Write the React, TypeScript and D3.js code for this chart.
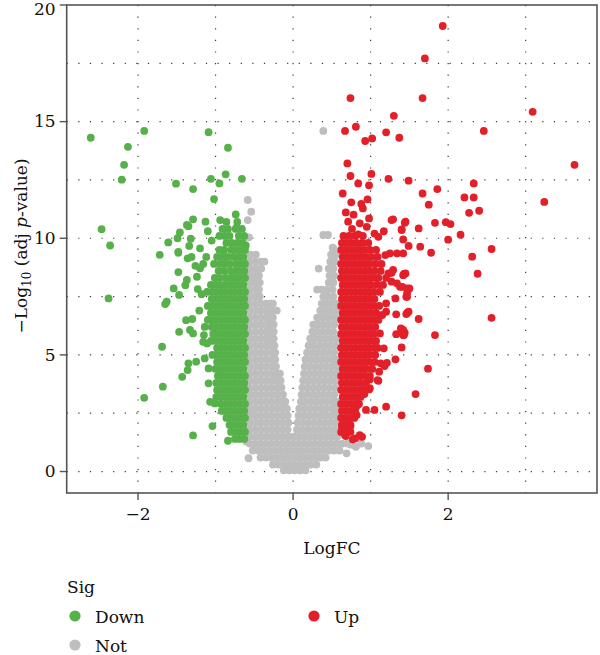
import React from "react";
import * as d3 from "d3";

// legend / colour mapping
const sigLevels = ["Down", "Not", "Up"];
const sigColors = ["#57B14A", "#BEBEBE", "#E3202A"];

const xTicks = [-2, 0, 2];
const yTicks = [0, 5, 10, 15, 20];
const xGrid = [-2, -1, 0, 1, 2, 3];
const yGrid = [0, 2.5, 5, 7.5, 10, 12.5, 15, 17.5];

// genes listed row by row: [-log10 adj p, logFC, logFC, ...]
const notRows: number[][] = [
  [0.05, -0.12, -0.05, 0.02, 0.09, 0.16],
  [0.3, -0.26, -0.19, -0.12, -0.05, 0.02, 0.09, 0.16, 0.23, 0.3],
  [0.6, -0.42, -0.35, -0.28, -0.21, -0.14, -0.07, 0, 0.07, 0.14, 0.21, 0.28, 0.35, 0.42],
  [0.9, -0.52, -0.45, -0.38, -0.31, -0.24, -0.17, -0.1, -0.03, 0.04, 0.11, 0.18, 0.25, 0.32, 0.39, 0.46, 0.53, 0.6],
  [1.2, -0.56, -0.49, -0.42, -0.35, -0.28, -0.21, -0.14, -0.07, 0, 0.07, 0.14, 0.21, 0.28, 0.35, 0.42, 0.49, 0.56, 0.63, 0.7],
  [1.5, -0.55, -0.48, -0.41, -0.34, -0.27, -0.2, -0.13, -0.06, 0.01, 0.08, 0.15, 0.22, 0.29, 0.36, 0.43, 0.5, 0.57],
  [1.8, -0.56, -0.49, -0.42, -0.35, -0.28, -0.21, -0.14, -0.07, 0.05, 0.12, 0.19, 0.26, 0.33, 0.4, 0.47, 0.54],
  [2.1, -0.55, -0.48, -0.41, -0.34, -0.27, -0.2, -0.13, -0.06, 0.06, 0.13, 0.2, 0.27, 0.34, 0.41, 0.48, 0.55],
  [2.4, -0.56, -0.49, -0.42, -0.35, -0.28, -0.21, -0.14, -0.07, 0.07, 0.14, 0.21, 0.28, 0.35, 0.42, 0.49, 0.56],
  [2.7, -0.55, -0.48, -0.41, -0.34, -0.27, -0.2, -0.13, -0.08, 0.08, 0.15, 0.22, 0.29, 0.36, 0.43, 0.5, 0.56],
  [3.0, -0.56, -0.49, -0.42, -0.35, -0.28, -0.21, -0.15, -0.1, 0.1, 0.16, 0.23, 0.3, 0.37, 0.44, 0.51, 0.56],
  [3.3, -0.55, -0.48, -0.41, -0.34, -0.27, -0.2, -0.13, 0.11, 0.18, 0.25, 0.32, 0.39, 0.46, 0.53],
  [3.6, -0.56, -0.49, -0.42, -0.35, -0.28, -0.21, -0.15, 0.12, 0.19, 0.26, 0.33, 0.4, 0.47, 0.54],
  [3.9, -0.55, -0.48, -0.41, -0.34, -0.27, -0.21, -0.16, 0.13, 0.2, 0.27, 0.34, 0.41, 0.48, 0.55],
  [4.2, -0.56, -0.49, -0.42, -0.35, -0.28, -0.22, -0.17, 0.14, 0.21, 0.28, 0.35, 0.42, 0.49, 0.56],
  [4.5, -0.55, -0.48, -0.41, -0.34, -0.27, -0.22, 0.15, 0.22, 0.29, 0.36, 0.43, 0.5, 0.56],
  [4.8, -0.56, -0.49, -0.42, -0.35, -0.28, -0.23, 0.16, 0.23, 0.3, 0.37, 0.44, 0.51, 0.56],
  [5.1, -0.55, -0.48, -0.41, -0.34, -0.27, -0.23, 0.18, 0.25, 0.32, 0.39, 0.46, 0.53],
  [5.4, -0.56, -0.49, -0.42, -0.35, -0.29, -0.24, 0.2, 0.27, 0.34, 0.41, 0.48, 0.55],
  [5.7, -0.55, -0.48, -0.41, -0.34, -0.29, -0.25, 0.22, 0.28, 0.35, 0.42, 0.49, 0.56],
  [6.0, -0.56, -0.49, -0.42, -0.35, -0.3, -0.25, 0.25, 0.31, 0.38, 0.45, 0.52],
  [6.3, -0.55, -0.48, -0.41, -0.34, -0.29, -0.25, 0.26, 0.32, 0.39, 0.46, 0.53],
  [6.6, -0.56, -0.49, -0.42, -0.35, -0.3, -0.26, 0.31, 0.37, 0.44, 0.51, 0.56],
  [6.9, -0.55, -0.48, -0.41, -0.34, -0.28, -0.21, 0.35, 0.41, 0.48, 0.55],
  [7.2, -0.56, -0.49, -0.42, -0.35, -0.29, -0.26, 0.37, 0.43, 0.5, 0.56],
  [7.5, -0.55, -0.48, -0.43, 0.39, 0.45, 0.52],
  [7.8, -0.56, -0.49, -0.44, 0.31, 0.37, 0.44, 0.51],
  [8.1, -0.55, -0.49, -0.43, 0.46, 0.52],
  [8.4, -0.56, -0.5, -0.44, 0.47, 0.53],
  [8.7, -0.55, -0.48, -0.41, 0.33, 0.46, 0.52],
  [9.0, -0.56, -0.49, -0.42, -0.37, 0.48, 0.54],
  [9.3, -0.55, -0.48, 0.49, 0.55],
  [9.6, 0.51],
];

const notScatter: [number, number][] = [
  [-0.585, 11.64], [-0.54, 11.14], [-0.585, 10.78], [-0.57, 10.04], [0.39, 14.6],
  [0.39, 10.14], [0.45, 10.14], [0.52, 9.57], [0.97, 1.09], [0.81, 1.06],
  [0.69, 0.78], [0.75, 1.15], [0.88, 1.2], [-0.575, 0.57], [-0.6, 1.28],
];

const downRows: number[][] = [
  [1.4, -0.63, -0.69, -0.75],
  [1.7, -0.62, -0.68, -0.74, -0.8],
  [2.0, -0.64, -0.7, -0.76, -0.82],
  [2.3, -0.62, -0.68, -0.74, -0.8, -0.86],
  [2.6, -0.63, -0.69, -0.75, -0.81, -0.87, -0.92],
  [2.9, -0.62, -0.68, -0.74, -0.8, -0.86, -0.93],
  [3.2, -0.64, -0.7, -0.76, -0.82, -0.88, -0.94, -0.99],
  [3.5, -0.62, -0.68, -0.74, -0.8, -0.86, -0.92, -0.98],
  [3.8, -0.63, -0.69, -0.75, -0.81, -0.87, -0.93, -0.99],
  [4.1, -0.62, -0.68, -0.74, -0.8, -0.86, -0.92, -0.97],
  [4.4, -0.64, -0.7, -0.76, -0.82, -0.88, -0.94, -1.0],
  [4.7, -0.62, -0.68, -0.74, -0.8, -0.86, -0.92, -0.98],
  [5.0, -0.63, -0.69, -0.75, -0.81, -0.87, -0.93, -0.99, -1.04],
  [5.3, -0.62, -0.68, -0.74, -0.8, -0.86, -0.92, -0.98],
  [5.6, -0.64, -0.7, -0.76, -0.82, -0.88, -0.94, -1.0, -1.06],
  [5.9, -0.62, -0.68, -0.74, -0.8, -0.86, -0.92, -0.98, -1.03],
  [6.2, -0.63, -0.69, -0.75, -0.81, -0.87, -0.93, -0.99, -1.05],
  [6.5, -0.62, -0.68, -0.74, -0.8, -0.86, -0.92, -0.98, -1.04, -1.1],
  [6.8, -0.64, -0.7, -0.76, -0.82, -0.88, -0.94, -1.0, -1.06],
  [7.1, -0.62, -0.68, -0.74, -0.8, -0.86, -0.92, -0.98, -1.04, -1.1],
  [7.4, -0.63, -0.69, -0.75, -0.81, -0.87, -0.93, -0.99, -1.05],
  [7.7, -0.62, -0.68, -0.74, -0.8, -0.86, -0.92, -0.98, -1.04, -1.11],
  [8.0, -0.64, -0.7, -0.76, -0.82, -0.88, -0.94, -1.0, -1.06],
  [8.3, -0.62, -0.68, -0.74, -0.8, -0.87, -0.95, -1.01],
  [8.6, -0.63, -0.69, -0.75, -0.81, -0.89, -0.96],
  [8.9, -0.62, -0.68, -0.74, -0.82, -0.88, -0.94, -1.02],
  [9.2, -0.64, -0.7, -0.77, -0.85, -0.91, -0.98],
  [9.5, -0.62, -0.68, -0.74, -0.8, -0.89, -0.95],
  [9.8, -0.65, -0.72, -0.79, -0.86],
  [10.1, -0.63, -0.7, -0.82, -0.88, -0.95],
  [10.4, -0.66, -0.74, -0.84, -0.91],
  [10.7, -0.72, -0.86],
];

const downScatter: [number, number][] = [
  [-2.61, 14.31], [-1.92, 14.6], [-2.13, 13.92], [-2.18, 13.15], [-2.21, 12.51],
  [-1.09, 14.55], [-0.84, 13.88], [-1.51, 12.34], [-1.29, 12.11], [-1.06, 12.55],
  [-0.87, 12.74], [-0.95, 12.35], [-0.66, 12.55], [-1.02, 11.68], [-2.47, 10.39],
  [-2.36, 9.69], [-2.38, 7.42], [-1.61, 9.82], [-1.46, 10.25], [-1.35, 10.52],
  [-1.29, 10.81], [-1.13, 10.71], [-1.37, 10.57], [-1.32, 9.98], [-1.2, 9.57],
  [-0.94, 10.78], [-0.74, 11.02], [-0.73, 10.45], [-0.61, 9.69], [-1.49, 10.0],
  [-1.34, 9.67], [-1.72, 9.29], [-1.48, 9.38], [-1.36, 9.14], [-1.26, 8.82],
  [-1.48, 8.55], [-1.37, 8.21], [-1.39, 7.99], [-1.24, 8.35], [-1.54, 7.85],
  [-1.47, 7.57], [-1.23, 7.82], [-1.63, 7.28], [-1.65, 7.18], [-1.38, 6.49],
  [-1.3, 6.54], [-1.47, 5.99], [-1.33, 6.07], [-1.29, 5.92], [-1.15, 5.85],
  [-1.69, 5.35], [-1.35, 4.64], [-1.25, 4.71], [-1.36, 4.35], [-1.43, 4.06],
  [-1.68, 3.64], [-1.92, 3.16], [-1.29, 1.55], [-1.04, 1.95], [-0.84, 1.32],
  [-1.07, 2.99], [-1.01, 2.92], [-1.09, 3.78], [-1.14, 4.85], [-1.09, 4.42],
  [-1.16, 5.56], [-1.11, 5.49], [-1.16, 8.9], [-1.12, 9.2], [-1.05, 9.9],
  [-1.1, 10.3], [-1.18, 7.6], [-1.21, 6.9], [-1.14, 6.2], [-1.48, 9.42],
  [-1.31, 9.2], [-1.2, 8.71],
];

const upRows: number[][] = [
  [1.7, 0.62, 0.68, 0.74],
  [2.0, 0.63, 0.69, 0.74],
  [2.3, 0.62, 0.68, 0.74, 0.79],
  [2.6, 0.63, 0.69, 0.75, 0.8],
  [2.9, 0.62, 0.68, 0.74, 0.8, 0.85],
  [3.2, 0.64, 0.7, 0.76, 0.82, 0.87],
  [3.5, 0.62, 0.68, 0.74, 0.8, 0.86, 0.91],
  [3.8, 0.63, 0.69, 0.75, 0.81, 0.87, 0.94],
  [4.1, 0.62, 0.68, 0.74, 0.8, 0.86, 0.92, 0.99],
  [4.4, 0.64, 0.7, 0.76, 0.82, 0.88, 0.94, 1.02],
  [4.7, 0.62, 0.68, 0.74, 0.8, 0.86, 0.92, 0.98, 1.05],
  [5.0, 0.63, 0.69, 0.75, 0.81, 0.87, 0.93, 0.99, 1.06],
  [5.3, 0.62, 0.68, 0.74, 0.8, 0.86, 0.92, 0.98, 1.04, 1.09],
  [5.6, 0.64, 0.7, 0.76, 0.82, 0.88, 0.94, 1.0, 1.07],
  [5.9, 0.62, 0.68, 0.74, 0.8, 0.86, 0.92, 0.98, 1.04],
  [6.2, 0.63, 0.69, 0.75, 0.81, 0.87, 0.93, 0.99, 1.06],
  [6.5, 0.62, 0.68, 0.74, 0.8, 0.86, 0.92, 0.98, 1.04, 1.1],
  [6.8, 0.64, 0.7, 0.76, 0.82, 0.88, 0.94, 1.0, 1.07],
  [7.1, 0.62, 0.68, 0.74, 0.8, 0.86, 0.92, 0.98, 1.04, 1.11],
  [7.4, 0.63, 0.69, 0.75, 0.81, 0.87, 0.93, 0.99, 1.05],
  [7.7, 0.62, 0.68, 0.74, 0.8, 0.86, 0.92, 0.98, 1.04, 1.12],
  [8.0, 0.64, 0.7, 0.76, 0.82, 0.88, 0.94, 1.0, 1.08, 1.16],
  [8.3, 0.62, 0.68, 0.74, 0.8, 0.86, 0.92, 0.98, 1.04, 1.1, 1.2],
  [8.6, 0.63, 0.69, 0.75, 0.81, 0.87, 0.93, 0.99, 1.05, 1.13],
  [8.9, 0.62, 0.68, 0.74, 0.8, 0.86, 0.92, 0.98, 1.06, 1.14],
  [9.2, 0.64, 0.7, 0.76, 0.82, 0.88, 0.94, 1.01, 1.09],
  [9.5, 0.62, 0.68, 0.74, 0.8, 0.86, 0.92, 0.99, 1.07],
  [9.8, 0.63, 0.69, 0.75, 0.82, 0.89, 0.97],
  [10.1, 0.65, 0.72, 0.8, 0.9],
];

const upScatter: [number, number][] = [
  [0.89, 1.49], [0.8, 1.42], [0.67, 1.56], [0.86, 1.56], [0.77, 1.38],
  [0.68, 1.52], [0.74, 1.95], [0.63, 1.92], [0.65, 2.21], [0.82, 2.81],
  [0.82, 2.42], [0.92, 3.32], [0.98, 3.52], [0.99, 3.95], [1.1, 3.89],
  [1.11, 4.28], [1.18, 4.52], [1.21, 4.66], [1.17, 5.28], [1.32, 4.81],
  [1.33, 5.89], [1.44, 5.95], [1.39, 6.14], [1.15, 6.71], [1.47, 6.8],
  [1.33, 6.74], [1.46, 6.75], [1.49, 6.85], [1.62, 6.54], [1.42, 6.07],
  [1.43, 5.85], [1.83, 5.85], [1.4, 5.32], [1.74, 4.41], [1.58, 3.32],
  [1.4, 2.41], [1.2, 2.78], [1.05, 2.64], [0.94, 2.64], [2.56, 6.59],
  [1.5, 7.85], [1.41, 7.92], [1.47, 7.49], [1.43, 8.47], [2.38, 8.48],
  [2.31, 9.21], [1.42, 9.35], [1.78, 9.38], [1.64, 9.64], [1.49, 9.67],
  [1.42, 9.95], [2.56, 9.54], [2.0, 9.94], [2.16, 10.15], [1.97, 10.69],
  [2.03, 10.61], [1.83, 10.66], [1.62, 10.42], [1.4, 10.38], [1.44, 10.66],
  [1.29, 10.81], [0.98, 10.85], [2.27, 11.09], [2.4, 11.18], [0.68, 11.11],
  [0.78, 11.01], [0.9, 11.28], [0.75, 11.54], [0.88, 11.47], [0.96, 11.67],
  [0.64, 11.92], [1.67, 11.92], [1.86, 12.11], [1.75, 11.44], [2.21, 11.75],
  [2.33, 11.75], [3.24, 11.56], [0.7, 13.21], [0.74, 12.67], [0.84, 12.35],
  [1.01, 12.76], [0.98, 12.27], [1.23, 12.55], [1.49, 12.47], [2.33, 12.35],
  [3.63, 13.15], [0.67, 14.6], [0.81, 14.78], [0.93, 14.17], [1.02, 14.28],
  [1.2, 14.54], [1.37, 14.31], [2.46, 14.6], [1.3, 15.25], [3.09, 15.42],
  [0.74, 16.01], [1.67, 16.01], [1.7, 17.71], [1.93, 19.1], [0.71, 10.71],
  [0.86, 10.64], [1.27, 10.78], [1.45, 10.71], [1.4, 10.35], [1.25, 9.35],
  [1.1, 10.06], [0.95, 10.49], [0.84, 10.17], [1.23, 8.49], [1.42, 8.42],
  [1.29, 8.64], [1.38, 7.92], [1.47, 7.64], [1.27, 8.14], [1.19, 9.28],
  [1.34, 9.35], [1.45, 8.49], [1.27, 8.52], [1.34, 8.07], [1.47, 7.85],
  [1.46, 7.49], [1.32, 7.42], [1.2, 7.21], [1.2, 6.85], [1.4, 6.09],
  [1.42, 5.85], [1.12, 5.92], [1.13, 4.64], [1.09, 3.92], [0.99, 3.57],
  [1.17, 10.3], [1.05, 10.2], [0.76, 10.4],
];

const fromRows = (rows: number[][]): [number, number][] =>
  rows.flatMap(([y, ...xs]) => xs.map((x) => [x, y] as [number, number]));

const W = 600;
const H = 655;
const left = 66.7, right = 597, top = 5, bottom = 493;
const font = "'DejaVu Serif', serif";
const fs = 17;

export default function App() {
  const x = d3.scaleLinear().domain([-2.92, 3.92]).range([left, right]);
  const y = d3.scaleLinear().domain([-0.92, 20]).range([bottom, top]);
  const color = d3.scaleOrdinal<string, string>().domain(sigLevels).range(sigColors);

  const groups: { sig: string; pts: [number, number][] }[] = [
    { sig: "Not", pts: [...fromRows(notRows), ...notScatter] },
    { sig: "Down", pts: [...fromRows(downRows), ...downScatter] },
    { sig: "Up", pts: [...fromRows(upRows), ...upScatter] },
  ];

  const gridStyle = { stroke: "#3a3a3a", strokeWidth: 1.2, strokeDasharray: "1.2 10.4" };

  return (
    <svg width={W} height={H} style={{ position: "absolute", left: 0, top: 0, background: "#fff" }}
      fontFamily={font}>
      {/* grid */}
      {xGrid.map((v) => (
        <line key={"gx" + v} x1={x(v)} x2={x(v)} y1={top} y2={bottom} {...gridStyle} />
      ))}
      {yGrid.map((v) => (
        <line key={"gy" + v} x1={left} x2={right} y1={y(v)} y2={y(v)} {...gridStyle} />
      ))}

      {/* points */}
      {groups.map((g) => (
        <g key={g.sig} fill={color(g.sig)}>
          {g.pts.map(([px, py], i) => (
            <circle key={i} cx={x(px)} cy={y(py)} r={3.9} />
          ))}
        </g>
      ))}

      {/* panel frame */}
      <rect x={left} y={top} width={right - left} height={bottom - top} fill="none" stroke="#555" strokeWidth={1.6} />

      {/* axes */}
      {yTicks.map((v) => (
        <g key={"yt" + v}>
          <line x1={left - 7} x2={left} y1={y(v)} y2={y(v)} stroke="#555" strokeWidth={1.4} />
          <text x={left - 11} y={Math.max(y(v), 9.5)} dy="0.34em" textAnchor="end" fontSize={fs} fill="#111">{v}</text>
        </g>
      ))}
      {xTicks.map((v) => (
        <g key={"xt" + v}>
          <line x1={x(v)} x2={x(v)} y1={bottom} y2={bottom + 7} stroke="#555" strokeWidth={1.4} />
          <text x={x(v)} y={520} textAnchor="middle" fontSize={fs} fill="#111">
            {v < 0 ? "\u2212" + Math.abs(v) : v}
          </text>
        </g>
      ))}

      <text x={(left + right) / 2} y={554} textAnchor="middle" fontSize={fs} fill="#111">LogFC</text>
      <text transform={`translate(27,${(top + bottom) / 2 - 3}) rotate(-90)`} textAnchor="middle" fontSize={fs} fill="#111">
        {"\u2212Log"}
        <tspan fontSize={12} dy={4}>10</tspan>
        <tspan dy={-4}>{" (adj "}</tspan>
        <tspan fontStyle="italic">p</tspan>
        {"-value)"}
      </text>

      {/* legend */}
      <text x={67} y={593} fontSize={fs} fill="#111">Sig</text>
      {[
        { sig: "Down", cx: 75, cy: 616 },
        { sig: "Not", cx: 75, cy: 645 },
        { sig: "Up", cx: 314, cy: 616 },
      ].map((k) => (
        <g key={"lg" + k.sig}>
          <circle cx={k.cx} cy={k.cy} r={5.6} fill={color(k.sig)} />
          <text x={k.cx + 20} y={k.cy + 6.5} fontSize={fs} fill="#111">{k.sig}</text>
        </g>
      ))}
    </svg>
  );
}
